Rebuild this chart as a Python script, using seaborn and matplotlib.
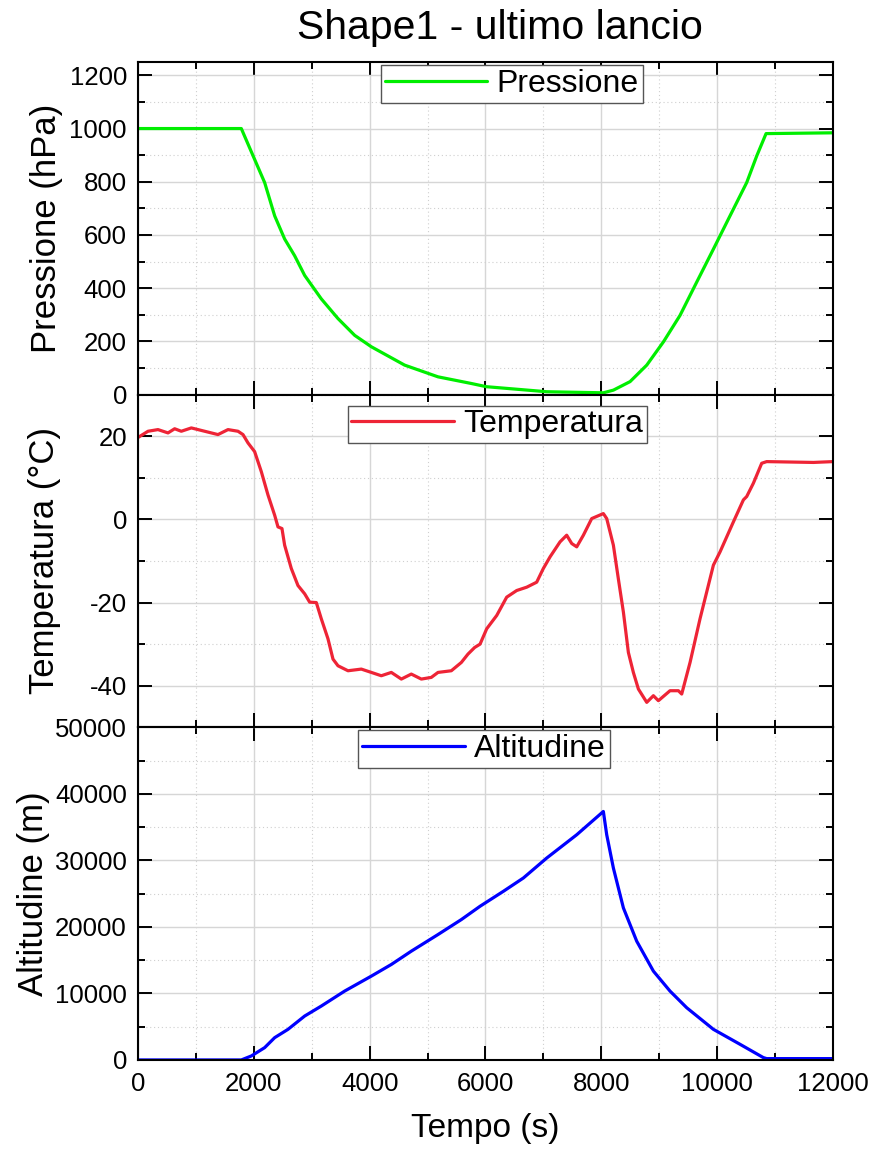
import numpy as np
import pandas as pd
import matplotlib
matplotlib.use("Agg")
import matplotlib.pyplot as plt
from matplotlib.ticker import MultipleLocator
import seaborn as sns

# Pressione (hPa) vs tempo (s)
t_press = [0, 1784, 2014, 2187, 2360, 2532, 2705, 2878, 3165, 3453, 3741, 4029,
           4604, 5180, 5755, 6014, 7057, 8035, 8208, 8496, 8784, 9071, 9359,
           9647, 9935, 10222, 10510, 10683, 10844, 12000]
pressione = [1000, 1000, 884, 797, 672, 585, 522, 448, 360, 286, 223, 180,
             111, 67, 42, 30, 11, 7, 17, 49, 111, 198, 298,
             423, 547, 672, 797, 897, 981, 984]

# Temperatura (°C) vs tempo (s)
t_temp = [0, 173, 345, 518, 633, 748, 921, 1151, 1381, 1554, 1727, 1813, 1899,
          2014, 2129, 2244, 2360, 2417, 2486, 2532, 2647, 2762, 2878, 2964,
          3079, 3165, 3280, 3367, 3453, 3626, 3856, 4029, 4201, 4374, 4547,
          4719, 4892, 5064, 5180, 5410, 5583, 5697, 5813, 5906, 6021, 6194,
          6366, 6539, 6712, 6884, 6999, 7115, 7287, 7402, 7489, 7575, 7690,
          7834, 8035, 8093, 8208, 8294, 8381, 8467, 8553, 8640, 8784, 8899,
          8985, 9186, 9330, 9388, 9532, 9704, 9935, 10050, 10280, 10453,
          10510, 10625, 10769, 10855, 11661, 12000]
temperatura = [19.7, 21.2, 21.6, 20.8, 21.8, 21.2, 22.0, 21.2, 20.4, 21.6, 21.2,
               20.4, 18.4, 16.3, 11.5, 5.9, 1.0, -1.8, -2.2, -6.2, -11.8, -15.9,
               -17.9, -19.9, -20.0, -23.9, -28.7, -33.6, -35.2, -36.4, -36.0,
               -36.8, -37.6, -36.8, -38.4, -37.2, -38.4, -38.0, -36.8, -36.4,
               -34.4, -32.4, -30.8, -30.0, -26.3, -23.1, -18.7, -17.1, -16.3,
               -15.1, -11.8, -9.0, -5.4, -3.8, -5.8, -6.6, -3.8, 0.2, 1.4, 0.2,
               -6.2, -14.3, -22.3, -32.0, -36.8, -40.8, -44.0, -42.4, -43.6,
               -41.2, -41.2, -42.0, -34.4, -23.9, -11.0, -7.8, -0.6, 4.7, 5.5,
               8.7, 13.5, 13.9, 13.7, 13.9]

# Altitudine (m) vs tempo (s)
t_alt = [0, 1784, 1957, 2187, 2360, 2590, 2878, 3165, 3568, 4029, 4374, 4719,
         5180, 5583, 5906, 6309, 6654, 7057, 7575, 8035, 8093, 8208, 8381,
         8611, 8899, 9186, 9474, 9935, 10395, 10798, 10855, 12000]
altitudine = [0, 0, 600, 1850, 3350, 4600, 6600, 8100, 10350, 12600, 14350,
              16350, 18850, 21100, 23100, 25350, 27350, 30350, 33850, 37350,
              33850, 28850, 22850, 17850, 13350, 10350, 7850, 4600, 2350, 350,
              200, 200]

df_p = pd.DataFrame({"Tempo": t_press, "Pressione": pressione})
df_t = pd.DataFrame({"Tempo": t_temp, "Temperatura": temperatura})
df_a = pd.DataFrame({"Tempo": t_alt, "Altitudine": altitudine})

sns.set_style("ticks")
plt.rcParams["font.family"] = ["Liberation Sans", "DejaVu Sans"]
plt.rcParams["axes.unicode_minus"] = False
for k in ["text.color", "axes.labelcolor", "xtick.color", "ytick.color"]:
    plt.rcParams[k] = "black"

fig, axes = plt.subplots(3, 1, figsize=(8.75, 11.55), dpi=100, sharex=True)
fig.subplots_adjust(left=0.1577, right=0.952, top=0.9463, bottom=0.0823, hspace=0)

panels = [
    (df_p, "Pressione", "#00ee00", "Pressione (hPa)", (0, 1250), 200, 100, (0.538, 0.99), -0.108),
    (df_t, "Temperatura", "#ee2436", "Temperatura (°C)", (-50, 30), 20, 10, (0.517, 0.967), -0.111),
    (df_a, "Altitudine", "#0000ff", "Altitudine (m)", (0, 50000), 10000, 5000, (0.498, 0.992), -0.127),
]

for ax, (d, col, color, ylab, ylim, major, minor, anchor, labx) in zip(axes, panels):
    sns.lineplot(data=d, x="Tempo", y=col, ax=ax, color=color, lw=2.3,
                 estimator=None, sort=False, label=col)
    ax.set_xlim(0, 12000)
    ax.set_ylim(*ylim)
    ax.xaxis.set_major_locator(MultipleLocator(2000))
    ax.xaxis.set_minor_locator(MultipleLocator(1000))
    ax.yaxis.set_major_locator(MultipleLocator(major))
    ax.yaxis.set_minor_locator(MultipleLocator(minor))
    ax.grid(which="major", color="#d6d6d6", lw=1.0, ls="-")
    ax.grid(which="minor", color="#cfcfcf", lw=0.8, ls=(0, (1, 2.5)))
    ax.set_axisbelow(True)
    ax.tick_params(which="both", direction="in", top=True, right=True,
                   width=1.4, color="black")
    ax.tick_params(which="major", length=10, labelsize=18.5, pad=8)
    ax.tick_params(which="minor", length=5)
    for s in ax.spines.values():
        s.set_linewidth(1.5)
        s.set_color("black")
    ax.set_ylabel(ylab, fontsize=25)
    ax.yaxis.set_label_coords(labx, 0.5)
    ax.set_xlabel("")
    leg = ax.legend(loc="upper center", bbox_to_anchor=anchor, fontsize=23,
                    frameon=True, fancybox=False, edgecolor="#555555",
                    framealpha=1, handlelength=3.2, handletextpad=0.3,
                    borderpad=0.12, borderaxespad=0)
    leg.get_frame().set_linewidth(1.0)

# limit tick labels as in the original
axes[1].set_yticks([-40, -20, 0, 20])
axes[2].set_xlabel("Tempo (s)", fontsize=24, labelpad=12)
axes[2].tick_params(axis="x", pad=9)

fig.text(0.571, 0.976, "Shape1 - ultimo lancio", fontsize=29.5, ha="center", va="center")

fig.savefig("out.png", dpi=100)
